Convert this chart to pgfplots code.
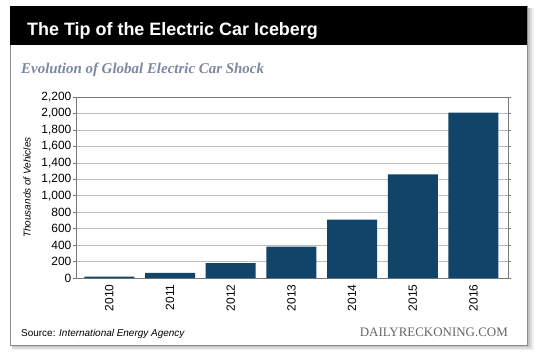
\documentclass[border=0pt]{standalone}
\usepackage{fontspec}
\setmainfont{Liberation Sans}
\newfontfamily\serifb{Liberation Serif}
\usepackage{pgfplots}
\pgfplotsset{compat=1.18}
\definecolor{barblue}{RGB}{16,68,104}
\definecolor{subc}{RGB}{122,136,160}
\definecolor{gridc}{RGB}{190,190,190}
\definecolor{axc}{RGB}{120,120,120}
\begin{document}
\begin{tikzpicture}[x=1bp,y=1bp]
\useasboundingbox (0,0) rectangle (540,353);
% soft shadow
\fill[black, opacity=0.06] (12,3) rectangle (534,345);
\fill[black, opacity=0.08] (12,4) rectangle (532,345);
\fill[black, opacity=0.12] (12,6) rectangle (530,345);
\fill[white] (10,8) rectangle (527,347);
\draw[black!45, line width=0.8bp] (10,8) rectangle (527,347);
\fill[black] (10,308) rectangle (527,347);
\node[anchor=base west, inner sep=0, text=white, font=\bfseries\fontsize{18}{20}\selectfont] at (27,318) {The Tip of the Electric Car Iceberg};
\node[anchor=base west, inner sep=0, text=subc, font=\serifb\bfseries\itshape\fontsize{15}{17}\selectfont] at (21,280) {Evolution of Global Electric Car Shock};
\begin{axis}[
  at={(76bp,75bp)}, anchor=south west,
  scale only axis, width=432bp, height=181bp,
  ymin=0, ymax=2200, ytick={0,200,...,2200},
  xmin=-0.55, xmax=6.57,
  xtick={0,1,2,3,4,5,6},
  xticklabels={2010,2011,2012,2013,2014,2015,2016},
  x tick label style={rotate=90, anchor=east, font=\fontsize{12}{14}\selectfont},
  y tick label style={font=\fontsize{12}{14}\selectfont, inner sep=1.5bp},
  /pgf/number format/.cd, 1000 sep={,}, assume math mode=true, /pgfplots/.cd,
  ymajorgrids, grid style={gridc, line width=0.6bp},
  axis line style={axc, line width=0.7bp},
  xtick style={draw=none},
  ytick style={axc, line width=0.6bp},
  tick align=outside, major tick length=3bp,
  ylabel={Thousands of Vehicles},
  ylabel style={font=\itshape\fontsize{10}{12}\selectfont, at={(axis description cs:-0.113,0.5)}, anchor=center},
  ybar, bar width=50bp,
]
\addplot[fill=barblue, draw=none] coordinates {(0,17) (1,61) (2,180) (3,380) (4,710) (5,1260) (6,2010)};
\end{axis}
\node[anchor=base west, inner sep=0, font=\fontsize{10}{12}\selectfont] at (21,17) {Source: \textit{International Energy Agency}};
\node[anchor=base east, inner sep=0, text=black!60, font=\serifb\fontsize{13}{15}\selectfont] at (508,17) {DAILYRECKONING.COM};
\end{tikzpicture}
\end{document}
